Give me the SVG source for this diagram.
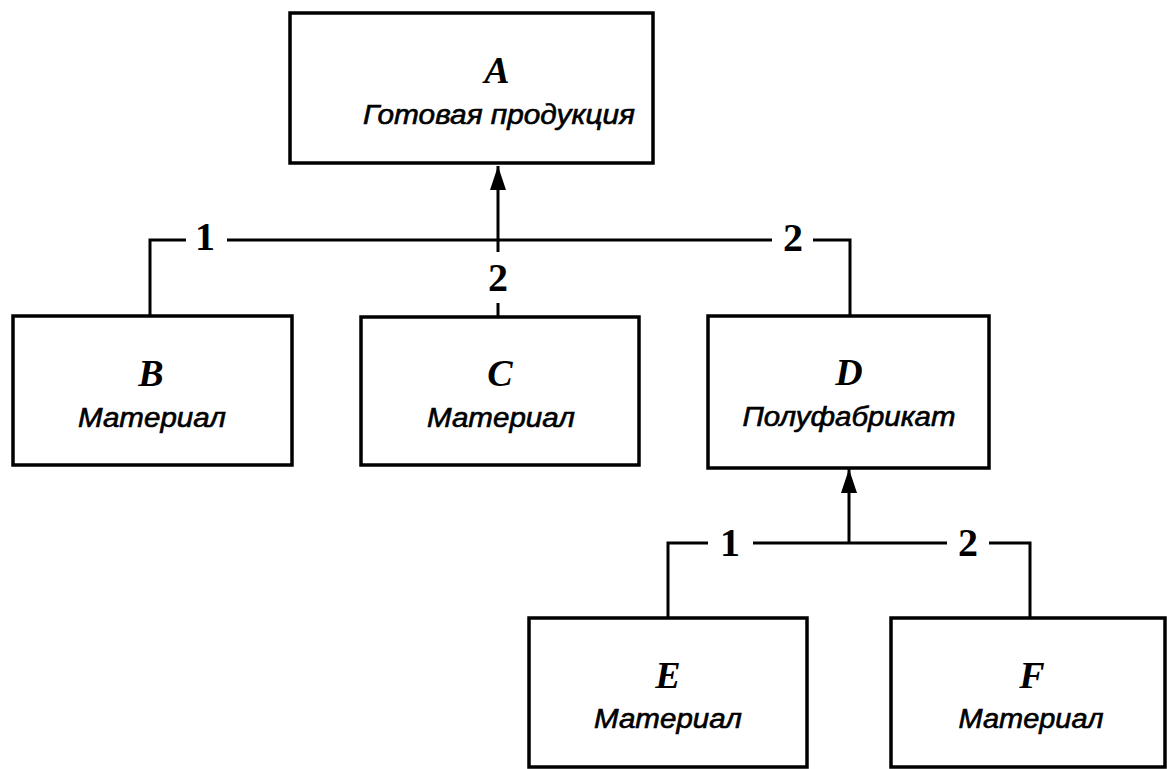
<svg xmlns="http://www.w3.org/2000/svg" width="1167" height="769" viewBox="0 0 1167 769">
<style>
.box{fill:#fff;stroke:#000;stroke-width:3.5}
.ln{fill:none;stroke:#000;stroke-width:3}
.let{font-family:"Liberation Serif",serif;font-weight:bold;font-style:italic;font-size:38px;text-anchor:middle;fill:#000}
.sub{font-family:"Liberation Sans",Arial,sans-serif;font-style:italic;font-size:27px;text-anchor:middle;fill:#000;stroke:#000;stroke-width:0.6}
.num{font-family:"Liberation Serif",serif;font-weight:bold;font-size:40px;text-anchor:middle;fill:#000}
</style>
<defs>
<marker id="arr" viewBox="0 0 24 16" refX="24" refY="8" markerWidth="24" markerHeight="16" markerUnits="userSpaceOnUse" orient="auto">
<path d="M0,0 L24,8 L0,16 Z" fill="#000"/>
</marker>
</defs>
<rect width="1167" height="769" fill="#fff"/>
<g id="connectors">
<path class="ln" d="M150,316 V240 H186"/>
<path class="ln" d="M227,240 H772"/>
<path class="ln" d="M813,240 H850 V316"/>
<path class="ln" d="M498,252 V166" marker-end="url(#arr)"/>
<path class="ln" d="M498,303 V318"/>
<text class="num" x="205" y="250">1</text>
<text class="num" x="793" y="251">2</text>
<text class="num" x="498" y="291">2</text>
<path class="ln" d="M668,617 V543 H708"/>
<path class="ln" d="M753,543 H947"/>
<path class="ln" d="M989,543 H1030 V617"/>
<path class="ln" d="M849,543 V469" marker-end="url(#arr)"/>
<text class="num" x="730" y="556">1</text>
<text class="num" x="968" y="556">2</text>
</g>
<g id="node-A">
<rect class="box" x="290" y="13" width="363" height="150"/>
<text class="let" x="497" y="83">A</text>
<text class="sub" x="499" y="124" textLength="272" lengthAdjust="spacingAndGlyphs">Готовая продукция</text>
</g>
<g id="node-B">
<rect class="box" x="13" y="316" width="279" height="149"/>
<text class="let" x="151" y="386">B</text>
<text class="sub" x="152" y="427" textLength="148" lengthAdjust="spacingAndGlyphs">Материал</text>
</g>
<g id="node-C">
<rect class="box" x="361" y="317" width="278" height="148"/>
<text class="let" x="500" y="386">C</text>
<text class="sub" x="501" y="427" textLength="148" lengthAdjust="spacingAndGlyphs">Материал</text>
</g>
<g id="node-D">
<rect class="box" x="708" y="316" width="281" height="152"/>
<text class="let" x="849" y="385">D</text>
<text class="sub" x="849" y="426" textLength="213" lengthAdjust="spacingAndGlyphs">Полуфабрикат</text>
</g>
<g id="node-E">
<rect class="box" x="529" y="618" width="278" height="149"/>
<text class="let" x="668" y="688">E</text>
<text class="sub" x="668" y="728" textLength="148" lengthAdjust="spacingAndGlyphs">Материал</text>
</g>
<g id="node-F">
<rect class="box" x="891" y="618" width="274" height="149"/>
<text class="let" x="1032" y="688">F</text>
<text class="sub" x="1031" y="728" textLength="145" lengthAdjust="spacingAndGlyphs">Материал</text>
</g>
</svg>
